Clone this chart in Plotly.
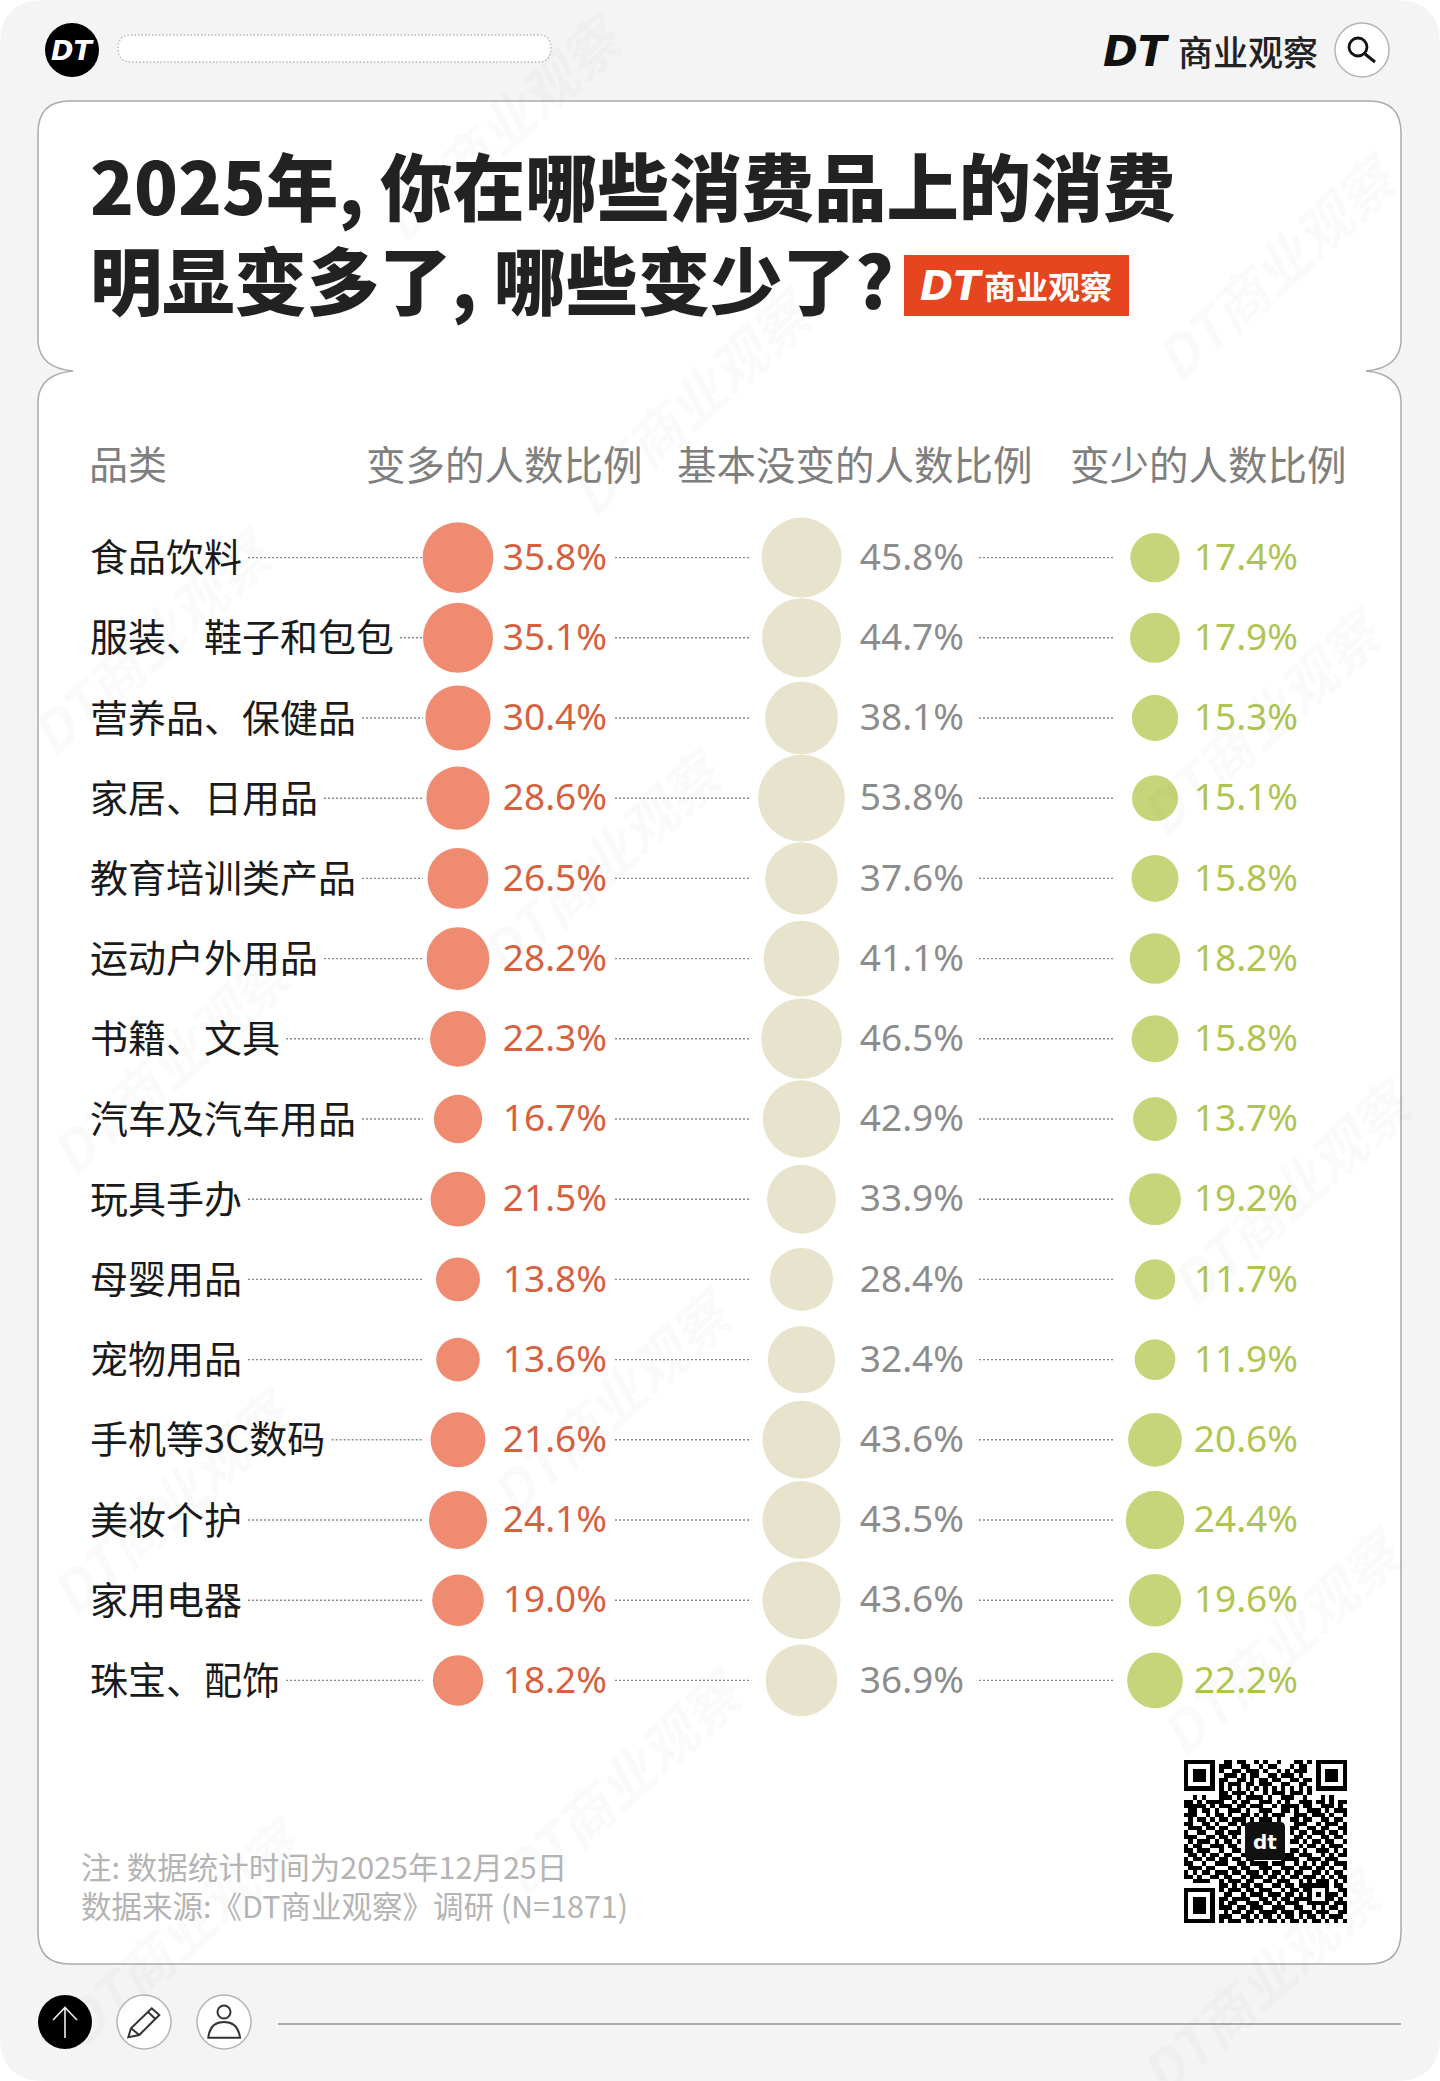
import plotly.graph_objects as go

categories = ["食品饮料", "服装、鞋子和包包", "营养品、保健品", "家居、日用品", "教育培训类产品",
              "运动户外用品", "书籍、文具", "汽车及汽车用品", "玩具手办", "母婴用品",
              "宠物用品", "手机等3C数码", "美妆个护", "家用电器", "珠宝、配饰"]
more_pct = [35.8, 35.1, 30.4, 28.6, 26.5, 28.2, 22.3, 16.7, 21.5, 13.8, 13.6, 21.6, 24.1, 19.0, 18.2]
same_pct = [45.8, 44.7, 38.1, 53.8, 37.6, 41.1, 46.5, 42.9, 33.9, 28.4, 32.4, 43.6, 43.5, 43.6, 36.9]
less_pct = [17.4, 17.9, 15.3, 15.1, 15.8, 18.2, 15.8, 13.7, 19.2, 11.7, 11.9, 20.6, 24.4, 19.6, 22.2]
column_titles = ["变多的人数比例", "基本没变的人数比例", "变少的人数比例"]
qr_rows = [
    "1111111001101100101001000110101111111", "1000001011100110010110001011001000001",
    "1011101010011011101001010111001011101", "1011101001110101100110111010001011101",
    "1011101011001101011011001101101011101", "1000001010111011011100110011001000001",
    "1111111010101010101010101010101111111", "0000000011011101001011101110100000000",
    "0010100011101011110100111001000101000", "1101011110010110011101010011101101011",
    "1111101011101101110010111101100111010", "0110110100111010011100110100111010111",
    "1110010110100110101011100111011101001", "0101101011011101011101001101100110110",
    "1100110100110100000000000111001011101", "0111011011001000000000001100110110011",
    "1001100110111000000000001011011101101", "1110011011010000000000000110100110110",
    "0101110101101000000000001101011011001", "1011001110110000000000000010110101110",
    "1101110010011000000000001101001110101", "0110101101100100000000011011100101011",
    "1011011011011011000000111100111011100", "1100100111001101111011100101010110111",
    "0111011000110110011100111011101101001", "1010110111011011101011010110011010110",
    "1101001101100101110110101101110101011", "0011110010111011001101110010101110101",
    "0000000011010110110011011011111110110", "1111111010111011011100101101100010011",
    "1000001001100101110111011010101011101", "1011101011011110011010110111100011010",
    "1011101010110011101101011100111110111", "1011101011101101110011100110010101101",
    "1011101001011011011110111011101110011", "1000001011100110101101011010110101110",
    "1111111010111011010110101101011010101",
]

W, H = 1440, 2081
CJK = "Noto Sans CJK SC"
RED, RED_T = "#EF8B70", "#D5613F"
BEI, BEI_T = "#E8E3CC", "#8C8C8C"
GRN, GRN_T = "#C6D579", "#AFC552"
COLS = [(458, RED, RED_T, 607, more_pct), (801.5, BEI, BEI_T, 964, same_pct), (1155, GRN, GRN_T, 1298, less_pct)]
ROW0, ROWSTEP = 557.6, 80.2
n = len(categories)
top = ROW0 - ROWSTEP / 2
bot = top + ROWSTEP * n


def circle(cx, cy, r, fill, line="#B5B5B5", w=1.5, layer="below"):
    return dict(type="circle", xref="x", yref="y", x0=cx - r, x1=cx + r, y0=cy - r, y1=cy + r,
                fillcolor=fill, line=dict(color=line, width=w), layer=layer)


def path(d, fill="rgba(0,0,0,0)", line="#333", w=2, layer="below", dash="solid"):
    return dict(type="path", xref="x", yref="y", path=d, fillcolor=fill,
                line=dict(color=line, width=w, dash=dash), layer=layer)


def note(text, x, y, size, color, anchor="left", family=CJK, weight=400, style="normal", angle=0):
    return dict(text=text, x=x, y=y, xref="x", yref="y", showarrow=False, xanchor=anchor, yanchor="middle",
                textangle=angle, font=dict(family=family, size=size, color=color, weight=weight, style=style))


def label_width(s, size=38):
    return sum(0.6 * size if ord(c) < 128 else size for c in s)


def row_axis(shift):
    return dict(type="category", categoryorder="array", categoryarray=categories, range=[n - 0.5, -0.5],
                domain=[1 - (bot + shift) / H, 1 - (top + shift) / H], anchor="x", visible=False, fixedrange=True)


shapes = [
    path(f"M 45 0 L {W-45} 0 Q {W} 0 {W} 45 L {W} {H-45} Q {W} {H} {W-45} {H} L 45 {H} Q 0 {H} 0 {H-45} L 0 45 Q 0 0 45 0 Z",
         fill="#F4F4F4", line="rgba(0,0,0,0)", w=0),
    path("M 70 101 L 1369 101 Q 1401 101 1401 133 L 1401 342 Q 1399 368 1366 371 Q 1399 374 1401 400 "
         "L 1401 1932 Q 1401 1964 1369 1964 L 70 1964 Q 38 1964 38 1932 L 38 400 Q 40 374 73 371 "
         "Q 40 368 38 342 L 38 133 Q 38 101 70 101 Z", fill="#FFFFFF", line="#ABABAB", w=1.5),
    circle(72, 50, 27, "#000000", line="#000000", w=0),
    path("M 131 35 L 538 35 Q 551 35 551 48.5 Q 551 62 538 62 L 131 62 Q 118 62 118 48.5 Q 118 35 131 35 Z",
         fill="#FFFFFF", line="#B5B5B5", w=1.3, dash="1.5px,2px"),
    circle(1362, 50, 27, "#FFFFFF"),
    circle(1358, 47, 9, "#FFFFFF", line="#111111", w=2.8),
    path("M 1365 54 L 1375 62", line="#111111", w=3),
    dict(type="rect", xref="x", yref="y", x0=904, x1=1129, y0=255, y1=316, fillcolor="#E5451F", line=dict(width=0), layer="below"),
    circle(65, 2022, 27, "#000000", line="#000000", w=0),
    path("M 65 2038 L 65 2008 M 53 2020 L 65 2007.5 L 77 2020", line="#F0F0F0", w=1.6),
    circle(144, 2022, 27, "#FFFFFF"),
    path("M 128.3 2037.3 L 131 2028.3 L 151.7 2008.3 L 159.3 2015 L 139.3 2035 Z M 131 2028.3 L 139.3 2035 "
         "M 148 2012 L 155.5 2019", line="#333333", w=2),
    circle(224, 2022, 27, "#FFFFFF"),
    circle(224, 2012, 6.5, "#FFFFFF", line="#333333", w=2),
    path("M 208.3 2037.7 Q 210 2022 224 2022 Q 238 2022 240 2037.7 Z", line="#333333", w=2),
    path("M 278 2024 L 1401 2024", line="#999999", w=1.5),
    dict(type="path", xref="x", yref="y", layer="above", fillcolor="#111111", line=dict(width=0),
         path="M 1250 1822 L 1280 1822 Q 1285 1822 1285 1827 L 1285 1855 Q 1285 1860 1280 1860 L 1250 1860 "
              "Q 1245 1860 1245 1855 L 1245 1827 Q 1245 1822 1250 1822 Z"),
]

for name in categories:
    start = 90 + label_width(name) + 6
    for x0, x1 in ((start, 423), (615, 750), (979, 1113)):
        shapes.append(dict(type="line", xref="x", yref="y2", x0=x0, x1=x1, y0=name, y1=name, layer="below",
                           line=dict(color="#8A8A8A", width=1.4, dash="2px,2px")))

fig = go.Figure()
wm_pos = [(500, 125), (1275, 265), (690, 400), (150, 640), (600, 860), (1260, 720), (1290, 1190), (610, 1400),
          (170, 1060), (170, 1500), (620, 1780), (1280, 1640), (180, 1930), (1260, 1980)]
annotations = [note("DT商业观察", x, y, 56, "rgba(0,0,0,0.018)", anchor="center", weight=700, style="italic", angle=-42)
               for x, y in wm_pos]

qr = [[int(c) for c in r.ljust(37, "0")[:37]] for r in qr_rows]
dm = 163 / 37
fig.add_trace(go.Heatmap(z=qr, x0=1184 + dm / 2, dx=dm, y0=1760 + dm / 2, dy=dm, xaxis="x", yaxis="y",
                         colorscale=[[0, "#FFFFFF"], [1, "#000000"]], zmin=0, zmax=1, showscale=False,
                         hoverinfo="skip"))

for cx, fill, tcolor, right, vals in COLS:
    fig.add_trace(go.Scatter(x=[cx] * n, y=categories, mode="markers", xaxis="x", yaxis="y2", showlegend=False,
                             cliponaxis=False,
                             marker=dict(size=vals, sizemode="area", sizeref=0.0143, color=fill, opacity=1,
                                         line=dict(width=0)),
                             hoverinfo="skip"))
    fig.add_trace(go.Scatter(x=[right] * n, y=categories, mode="text", xaxis="x", yaxis="y3", showlegend=False,
                             cliponaxis=False, text=[f"{v:.1f}%" for v in vals], textposition="middle left",
                             textfont=dict(family="Noto Sans", size=37, color=tcolor), hoverinfo="skip"))

fig.add_trace(go.Scatter(x=[90] * n, y=categories, mode="text", xaxis="x", yaxis="y4", showlegend=False,
                         cliponaxis=False, text=categories, textposition="middle right",
                         textfont=dict(family=CJK, size=38, color="#1A1A1A"), hoverinfo="skip"))

annotations += [
    note("2025年, 你在哪些消费品上的消费", 88, 183, 72.3, "#222222", weight=900),
    note("明显变多了, 哪些变少了?", 88, 277, 72.3, "#222222", weight=900),
    note("DT", 72, 50, 27, "#FFFFFF", anchor="center", family="DejaVu Sans", weight=700, style="italic"),
    note("DT", 1101, 51, 42, "#111111", family="DejaVu Sans", weight=700, style="italic"),
    note("商业观察", 1176, 50, 35, "#222222", weight=500),
    note("DT", 918, 286, 40, "#FFFFFF", family="DejaVu Sans", weight=700, style="italic"),
    note("商业观察", 982, 285, 32, "#FFFFFF", weight=700),
    note("品类", 87, 462, 39, "#7F7F7F"),
    note(column_titles[0], 364, 462, 39.5, "#7F7F7F"),
    note(column_titles[1], 675, 462, 39.5, "#7F7F7F"),
    note(column_titles[2], 1068, 462, 39.5, "#7F7F7F"),
    note("注: 数据统计时间为2025年12月25日", 79, 1866, 30.5, "#B4B4B4"),
    note("数据来源:《DT商业观察》调研 (N=1871)", 79, 1905, 30.5, "#B4B4B4"),
    note("dt", 1265, 1842, 20, "#FFFFFF", anchor="center", family="DejaVu Sans", weight=700),
]

fig.update_layout(
    width=W, height=H, margin=dict(l=0, r=0, t=0, b=0), paper_bgcolor="#FFFFFF", plot_bgcolor="rgba(0,0,0,0)",
    showlegend=False, shapes=shapes, annotations=annotations,
    xaxis=dict(range=[0, W], domain=[0, 1], visible=False, fixedrange=True),
    yaxis=dict(range=[H, 0], domain=[0, 1], visible=False, fixedrange=True),
    yaxis2=row_axis(0), yaxis3=row_axis(3), yaxis4=row_axis(4),
)
fig.write_html("out.html", config={"displayModeBar": False},
               post_script="document.body.style.margin='0';document.documentElement.style.overflow='hidden';")
